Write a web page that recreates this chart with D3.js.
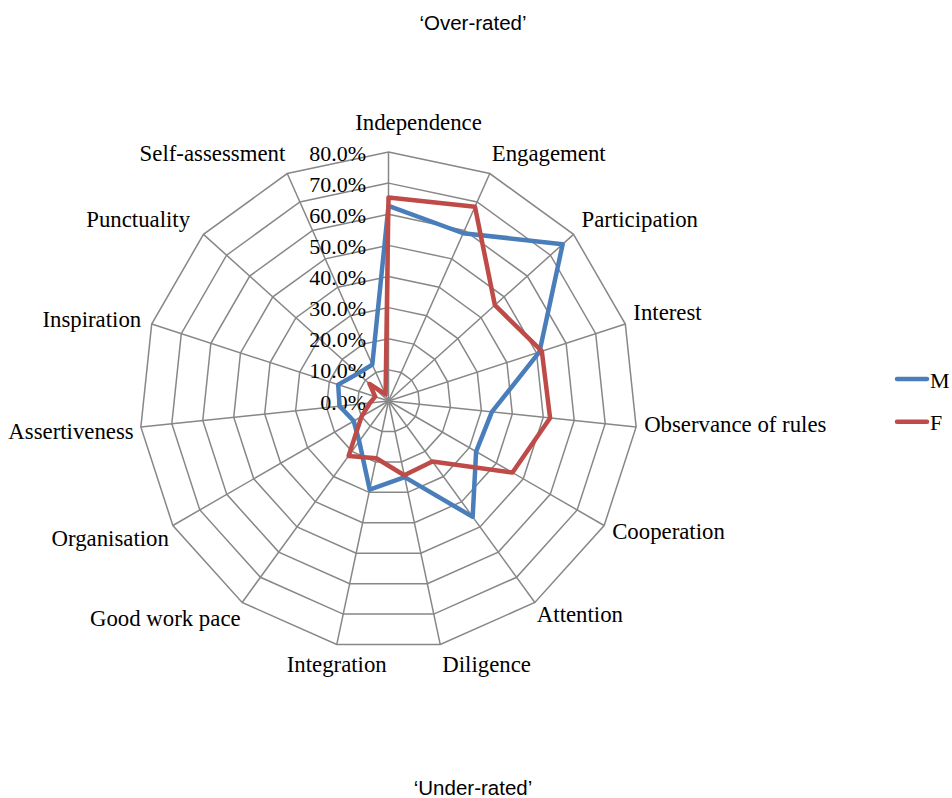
<!DOCTYPE html>
<html>
<head>
<meta charset="utf-8">
<script src="https://cdn.jsdelivr.net/npm/d3@7"></script>
<style>
  html, body { margin: 0; padding: 0; background: #fff; }
  svg { display: block; }
</style>
</head>
<body>
<svg id="chart" width="952" height="798"></svg>
<script>
// Traits, clockwise from the top of the radar
const categories = [
  "Independence", "Engagement", "Participation", "Interest", "Observance of rules",
  "Cooperation", "Attention", "Diligence", "Integration", "Good work pace",
  "Organisation", "Assertiveness", "Inspiration", "Punctuality", "Self-assessment"
];
// Share of pupils per trait (fraction)
const maleValues = [
  0.627, 0.590, 0.753, 0.510, 0.334, 0.325, 0.460, 0.250, 0.291, 0.160,
  0.129, 0.158, 0.170, 0.132, 0.128
];
const femaleValues = [
  0.654, 0.683, 0.460, 0.518, 0.522, 0.460, 0.240, 0.244, 0.188, 0.218,
  0.100, 0.060, 0.045, 0.082, 0.023
];
const seriesNames = ["M", "F"];
const tickValues = [0, 0.1, 0.2, 0.3, 0.4, 0.5, 0.6, 0.7, 0.8];
const topCaption = "\u2018Over-rated\u2019";
const bottomCaption = "\u2018Under-rated\u2019";

const svg = d3.select("#chart");
const cx = 388.5, cy = 401;
const serif = "'Liberation Serif', 'Times New Roman', serif";
const sans = "'Liberation Sans', Arial, sans-serif";

const r = d3.scaleLinear().domain([0, 0.8]).range([0, 249]);
const angle = d3.scaleLinear().domain([0, categories.length]).range([0, 2 * Math.PI]);
const colour = d3.scaleOrdinal().domain(seriesNames).range(["#4a7ebb", "#be4b48"]);

const g = svg.append("g").attr("transform", `translate(${cx},${cy})`);

// point on spoke i at value v
const pt = (i, v) => [Math.sin(angle(i)) * r(v), -Math.cos(angle(i)) * r(v)];

// grid rings
const ringLine = d3.line().curve(d3.curveLinearClosed);
g.append("g").selectAll("path")
  .data(tickValues.filter(t => t > 0))
  .join("path")
  .attr("d", t => ringLine(categories.map((c, i) => pt(i, t))))
  .attr("fill", "none")
  .attr("stroke", "#878787")
  .attr("stroke-width", 1.5);

// spokes
g.append("g").selectAll("line")
  .data(categories)
  .join("line")
  .attr("x1", 0).attr("y1", 0)
  .attr("x2", (c, i) => pt(i, 0.8)[0])
  .attr("y2", (c, i) => pt(i, 0.8)[1])
  .attr("stroke", "#878787")
  .attr("stroke-width", 1.5);

// radial tick labels, to the left of the top spoke
g.append("g").selectAll("text")
  .data(tickValues)
  .join("text")
  .attr("x", -22.5)
  .attr("y", t => -r(t) + 1)
  .attr("text-anchor", "end")
  .attr("dominant-baseline", "central")
  .attr("font-family", serif)
  .attr("font-size", 22)
  .attr("fill", "#000")
  .text(d3.format(".1%"));

// category labels placed outside the outer ring
g.append("g").selectAll("text")
  .data(categories)
  .join("text")
  .each(function (c, i) {
    const a = angle(i);
    const s = Math.sin(a), co = Math.cos(a);
    const [vx, vy] = pt(i, 0.8);
    let anchor = "middle", x = vx;
    let y = vy - 21 * co - 1;
    if (s > 0.15) {
      anchor = "start";
      x = vx + (Math.abs(co) < 0.7 ? 8 : 2);
      if (co < 0.5 && co > -0.9) y -= 4;
    } else if (s < -0.3) {
      anchor = "end";
      x = Math.abs(s) > 0.5 ? vx - 8 - 8 * co : vx - 2;
      if (Math.abs(co) < 0.6) y += 3;
    } else if (co > 0.9) {
      x = vx + 30;
      y -= 8;
    }
    d3.select(this)
      .attr("x", x).attr("y", y)
      .attr("text-anchor", anchor)
      .attr("dominant-baseline", "central");
  })
  .attr("font-family", serif)
  .attr("font-size", 22.8)
  .attr("fill", "#000")
  .text(c => c);

// series polygons
const radial = d3.lineRadial()
  .angle((v, i) => angle(i))
  .radius(v => r(v))
  .curve(d3.curveLinearClosed);

const series = [
  { name: "M", values: maleValues },
  { name: "F", values: femaleValues }
];

g.append("g").selectAll("path")
  .data(series)
  .join("path")
  .attr("d", d => radial(d.values))
  .attr("fill", "none")
  .attr("stroke", d => colour(d.name))
  .attr("stroke-width", 4.5)
  .attr("stroke-linejoin", "round");

// legend
const legend = svg.append("g").attr("transform", "translate(897,379)");
const item = legend.selectAll("g")
  .data(seriesNames)
  .join("g")
  .attr("transform", (d, i) => `translate(0,${i * 42.7})`);
item.append("line")
  .attr("x1", 0).attr("x2", 30)
  .attr("y1", 0).attr("y2", 0)
  .attr("stroke", d => colour(d))
  .attr("stroke-width", 4.5)
  .attr("stroke-linecap", "round");
item.append("text")
  .attr("x", 33).attr("y", 1)
  .attr("dominant-baseline", "central")
  .attr("font-family", serif)
  .attr("font-size", 22)
  .attr("fill", "#000")
  .text(d => d);

// captions above and below the radar
svg.append("text")
  .attr("x", 473).attr("y", 22)
  .attr("text-anchor", "middle")
  .attr("dominant-baseline", "central")
  .attr("font-family", sans)
  .attr("font-size", 20.5)
  .attr("fill", "#000")
  .text(topCaption);
svg.append("text")
  .attr("x", 473).attr("y", 787)
  .attr("text-anchor", "middle")
  .attr("dominant-baseline", "central")
  .attr("font-family", sans)
  .attr("font-size", 20.5)
  .attr("fill", "#000")
  .text(bottomCaption);
</script>
</body>
</html>
